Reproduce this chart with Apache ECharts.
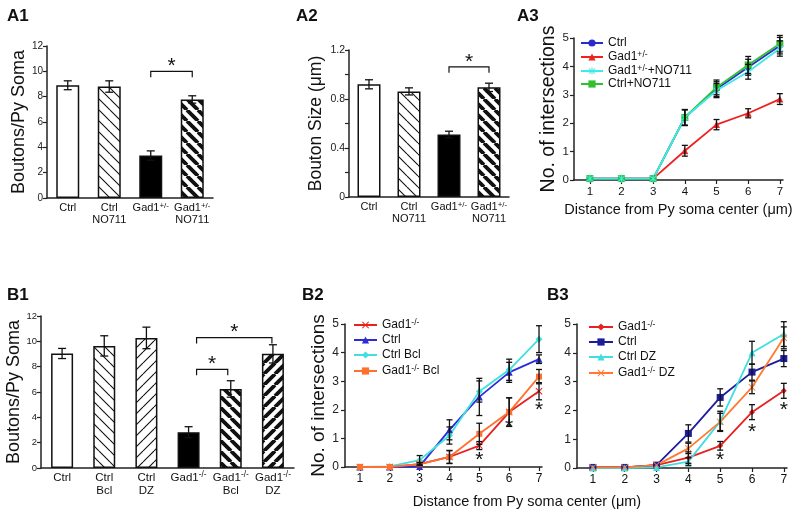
<!DOCTYPE html>
<html><head><meta charset="utf-8">
<script src="https://cdn.jsdelivr.net/npm/echarts@6.0.0/dist/echarts.min.js"></script>
<style>html,body{margin:0;padding:0;background:#fff}#c{width:800px;height:517px}</style>
</head><body><div id="c"></div><script>
// ---------------- data ----------------
const a1Cats = ['Ctrl', 'Ctrl\nNO711', 'Gad1+/-', 'Gad1+/-\nNO711'];
const a1Mean = [8.9, 8.8, 3.35, 7.78];
const a1Err = [0.35, 0.45, 0.37, 0.29];
const a1Sig = [[2, 3, 10.0]];

const a2Cats = ['Ctrl', 'Ctrl\nNO711', 'Gad1+/-', 'Gad1+/-\nNO711'];
const a2Mean = [0.92, 0.862, 0.51, 0.895];
const a2Err = [0.037, 0.029, 0.027, 0.034];
const a2Sig = [[2, 3, 1.063]];

const b1Cats = ['Ctrl', 'Ctrl\nBcl', 'Ctrl\nDZ', 'Gad1-/-', 'Gad1-/-\nBcl', 'Gad1-/-\nDZ'];
const b1Mean = [9.04, 9.64, 10.27, 2.83, 6.24, 9.01];
const b1Err = [0.4, 0.8, 0.85, 0.43, 0.65, 0.72];
const b1Sig = [[3, 4, 7.79], [3, 5, 10.3]];

const dist = [1, 2, 3, 4, 5, 6, 7];

const a3Names = ['Ctrl', 'Gad1+/-', 'Gad1+/-+NO711', 'Ctrl+NO711'];
const a3Ctrl = [0.05, 0.05, 0.05, 2.2, 3.2, 3.97, 4.73];
const a3Gad = [0.05, 0.05, 0.05, 1.03, 1.95, 2.35, 2.85];
const a3GadNO = [0.05, 0.05, 0.05, 2.2, 3.15, 3.81, 4.63];
const a3CtrlNO = [0.05, 0.05, 0.05, 2.2, 3.26, 4.05, 4.8];
const a3CtrlErr = [0, 0, 0, 0.28, 0.26, 0.28, 0.29];
const a3GadErr = [0, 0, 0, 0.19, 0.18, 0.16, 0.19];
const a3GadNOErr = [0, 0, 0, 0.27, 0.25, 0.26, 0.27];
const a3CtrlNOErr = [0, 0, 0, 0.28, 0.26, 0.3, 0.29];

const b2Names = ['Gad1-/-', 'Ctrl', 'Ctrl Bcl', 'Gad1-/- Bcl'];
const b2Gad = [0, 0, 0.1, 0.35, 0.75, 1.92, 2.65];
const b2Ctrl = [0, 0, 0.02, 1.3, 2.45, 3.31, 3.77];
const b2CtrlBcl = [0, 0.02, 0.24, 1.1, 2.64, 3.4, 4.47];
const b2GadBcl = [0, 0, 0.1, 0.35, 1.16, 1.92, 3.16];
const b2GadErr = [0, 0, 0.05, 0.22, 0.14, 0.5, 0.3];
const b2CtrlErr = [0, 0, 0, 0.35, 0.65, 0.35, 0.15];
const b2CtrlBclErr = [0, 0, 0.16, 0.3, 0.37, 0.37, 0.47];
const b2GadBclErr = [0, 0, 0.05, 0.23, 0.37, 0.5, 0.25];
const b2Stars = [[5, 0.37], [6, 1.54], [7, 2.11]];

const b3Names = ['Gad1-/-', 'Ctrl', 'Ctrl DZ', 'Gad1-/- DZ'];
const b3Gad = [0.02, 0.02, 0.1, 0.36, 0.77, 1.94, 2.68];
const b3Ctrl = [0.02, 0.02, 0.1, 1.2, 2.45, 3.33, 3.8];
const b3CtrlDZ = [0, 0, 0.02, 0.22, 1.62, 4.0, 4.65];
const b3GadDZ = [0.02, 0.02, 0.1, 0.68, 1.6, 2.8, 4.52];
const b3GadErr = [0, 0, 0, 0.2, 0.15, 0.26, 0.26];
const b3CtrlErr = [0, 0, 0, 0.3, 0.3, 0.28, 0.28];
const b3CtrlDZErr = [0, 0, 0, 0.14, 0.35, 0.4, 0.43];
const b3GadDZErr = [0, 0, 0, 0.18, 0.3, 0.22, 0.38];
const b3Stars = [[5, 0.4], [6, 1.39], [7, 2.13]];

// ---------------- styling helpers ----------------
const FF = 'Liberation Sans';
const INK = '#111';

function hatch(dir, lw, s) {
  const c = document.createElement('canvas');
  c.width = s; c.height = s;
  const g = c.getContext('2d');
  g.fillStyle = '#fff'; g.fillRect(0, 0, s, s);
  g.strokeStyle = '#111'; g.lineWidth = lw;
  g.beginPath();
  for (let k = -1; k <= 1; k++) {
    if (dir === 'back') { g.moveTo(k * s, 0); g.lineTo(k * s + s, s); }
    else { g.moveTo(k * s + s, 0); g.lineTo(k * s, s); }
  }
  g.stroke();
  return { image: c, repeat: 'repeat' };
}
const thinBack = hatch('back', 1.1, 11);
const thickBack = hatch('back', 3.8, 11);
const thinFwd = hatch('fwd', 1.1, 11);
const thickFwd = hatch('fwd', 3.8, 11);
const a1Fill = ['#fff', thinBack, '#000', thickBack];
const b1Fill = ['#fff', thinBack, thinFwd, '#000', thickBack, thickFwd];

function supFmt(t) {
  return t.split('\n').map(line => {
    const m = line.match(/^(.*?)([+-]\/-)(.*)$/);
    if (!m) return '{n|' + line + '}';
    return '{n|' + m[1] + '}{s|' + m[2] + '}' + (m[3] ? '{n|' + m[3] + '}' : '');
  }).join('\n');
}
function rich(fs, lh) {
  return {
    n: { fontSize: fs, lineHeight: lh, fontFamily: FF, color: INK },
    s: { fontSize: fs * 0.72, lineHeight: Math.round(lh * 0.6), verticalAlign: 'top', fontFamily: FF, color: INK }
  };
}

const axLine = { show: true, lineStyle: { color: '#222', width: 1.5 } };
const tick = { show: true, length: 4, lineStyle: { color: '#222', width: 1.2 } };

function catX(gi, cats, fs, lh, margin) {
  return { gridIndex: gi, type: 'category', data: cats, axisLine: axLine, axisTick: { show: false },
    axisLabel: { interval: 0, margin: margin, formatter: v => supFmt(v), rich: rich(fs, lh) } };
}
function distX(gi, fs, margin, name) {
  const o = { gridIndex: gi, type: 'value', min: 0.5, max: 7.1, axisLine: axLine, splitLine: { show: false },
    axisTick: Object.assign({ customValues: dist }, tick),
    axisLabel: { customValues: dist, fontSize: fs, margin: margin, color: INK, fontFamily: FF } };
  if (name) Object.assign(o, { name: name, nameLocation: 'middle', nameGap: 22,
    nameTextStyle: { fontSize: 14.5, color: INK, fontFamily: FF } });
  return o;
}
function valY(gi, max, interval, fs, margin, name, nfs, gap, minor) {
  const o = { gridIndex: gi, type: 'value', min: 0, max: max, interval: interval, axisLine: axLine,
    axisTick: tick, splitLine: { show: false },
    axisLabel: { fontSize: fs, margin: margin, color: '#222', fontFamily: FF } };
  if (minor) o.minorTick = { show: true, splitNumber: 2, length: 4, lineStyle: { color: '#222', width: 1.2 } };
  if (name) Object.assign(o, { name: name, nameLocation: 'middle', nameGap: gap,
    nameTextStyle: { fontSize: nfs, color: INK, fontFamily: FF } });
  return o;
}

function errRender(cap) {
  return function (params, api) {
    const x = api.value(0), lo = api.value(1), hi = api.value(2);
    const p1 = api.coord([x, hi]), p2 = api.coord([x, lo]);
    const st = { stroke: INK, lineWidth: 1.3 };
    return { type: 'group', children: [
      { type: 'line', shape: { x1: p1[0], y1: p1[1], x2: p2[0], y2: p2[1] }, style: st },
      { type: 'line', shape: { x1: p1[0] - cap, y1: p1[1], x2: p1[0] + cap, y2: p1[1] }, style: st },
      { type: 'line', shape: { x1: p2[0] - cap, y1: p2[1], x2: p2[0] + cap, y2: p2[1] }, style: st }
    ] };
  };
}
function barErr(gi, means, errs) {
  return { type: 'custom', xAxisIndex: gi, yAxisIndex: gi, silent: true, z: 5,
    encode: { x: 0, y: [1, 2] },
    data: means.map((m, i) => [i, m - errs[i], m + errs[i]]), renderItem: errRender(4) };
}
function lineErr(gi, groups) {
  const data = [];
  groups.forEach(([m, e]) => m.forEach((v, i) => { if (e[i] > 0) data.push([dist[i], v - e[i], v + e[i]]); }));
  return { type: 'custom', xAxisIndex: gi, yAxisIndex: gi, silent: true, z: 5,
    encode: { x: 0, y: [1, 2] }, data: data, renderItem: errRender(3) };
}
function starText(x, y) {
  return { type: 'text', x: x, y: y, style: { text: '*', fontSize: 21, fontFamily: FF, fill: INK, align: 'center', verticalAlign: 'middle' } };
}
function sigSeries(gi, sig, dx) {
  return { type: 'custom', xAxisIndex: gi, yAxisIndex: gi, silent: true, z: 6,
    encode: { x: 0, y: 2 },
    data: sig.map((s, k) => [s[0], s[1], s[2], k]),
    renderItem: function (p, api) {
      const a = api.value(0), b = api.value(1), y = api.value(2), k = api.value(3);
      const pa = api.coord([a, y]), pb = api.coord([b, y]);
      const off = dx ? dx[k] : [0, 0];
      const x1 = pa[0] + off[0], x2 = pb[0] + off[1], yy = pa[1];
      return { type: 'group', children: [
        { type: 'polyline', shape: { points: [[x1, yy + 6], [x1, yy], [x2, yy], [x2, yy + 6]] }, style: { stroke: INK, lineWidth: 1.2, fill: null } },
        starText((x1 + x2) / 2, yy - 5)
      ] };
    } };
}
function starSeries(gi, stars) {
  return { type: 'custom', xAxisIndex: gi, yAxisIndex: gi, silent: true, z: 6,
    data: stars, renderItem: function (p, api) {
      const c = api.coord([api.value(0), api.value(1)]);
      return starText(c[0], c[1] + 4);
    } };
}
function bars(gi, means, fills, w) {
  return { type: 'bar', xAxisIndex: gi, yAxisIndex: gi, barWidth: w, silent: true,
    itemStyle: { borderColor: INK, borderWidth: 1.5 },
    data: means.map((v, i) => ({ value: v, itemStyle: { color: fills[i] } })) };
}
function line(gi, prefix, name, vals, color, symbol, size) {
  return { type: 'line', name: prefix + '#' + name, xAxisIndex: gi, yAxisIndex: gi, silent: true,
    data: dist.map((d, i) => [d, vals[i]]), symbol: symbol, symbolSize: size, z: 3,
    lineStyle: { color: color, width: 1.8 }, itemStyle: { color: color } };
}
function legend(prefix, names, left, top, gap, iw) {
  return { orient: 'vertical', left: left, top: top, itemGap: gap, itemWidth: iw, itemHeight: 9,
    selectedMode: false, padding: 0,
    data: names.map(n => prefix + '#' + n),
    formatter: n => supFmt(n.split('#')[1]),
    textStyle: { fontSize: 12, color: INK, fontFamily: FF, rich: rich(12, 14) } };
}

const X_SYM = 'path://M1,0 L5,4 L9,0 L10,1 L6,5 L10,9 L9,10 L5,6 L1,10 L0,9 L4,5 L0,1 Z';
const AST_SYM = 'path://M1,0 L5,4 L9,0 L10,1 L6,5 L10,9 L9,10 L5,6 L1,10 L0,9 L4,5 L0,1 Z M4.3,-1 L5.7,-1 L5.7,11 L4.3,11 Z';

const titles = [['A1', 7, 16], ['A2', 296, 16], ['A3', 517, 16], ['B1', 7, 295], ['B2', 302, 295], ['B3', 547, 295]];

const option = {
  animation: false,
  backgroundColor: '#fff',
  textStyle: { fontFamily: FF, color: INK },
  grid: [
    { left: 47, top: 46, width: 166, height: 152, outerBoundsMode: 'none' },
    { left: 349, top: 50, width: 160, height: 147, outerBoundsMode: 'none' },
    { left: 574, top: 38, width: 209, height: 142, outerBoundsMode: 'none' },
    { left: 41, top: 316, width: 253, height: 152, outerBoundsMode: 'none' },
    { left: 345, top: 324, width: 197, height: 143, outerBoundsMode: 'none' },
    { left: 577, top: 324, width: 210, height: 144, outerBoundsMode: 'none' }
  ],
  xAxis: [
    catX(0, a1Cats, 11, 12, 4),
    catX(1, a2Cats, 11, 12, 4),
    distX(2, 11.5, 6, 'Distance from Py soma center (μm)'),
    catX(3, b1Cats, 11.5, 13, 3),
    distX(4, 12, 6),
    distX(5, 12, 6)
  ],
  yAxis: [
    valY(0, 12, 2, 10, 4, 'Boutons/Py Soma', 18, 19),
    valY(1, 1.2, 0.4, 10.5, 4, 'Bouton Size (μm)', 17.5, 24, true),
    valY(2, 5, 1, 11.5, 5, 'No. of intersections', 19.5, 13),
    valY(3, 12, 2, 9.5, 4, 'Boutons/Py Soma', 18, 18),
    valY(4, 5, 1, 12, 6, 'No. of intersections', 19, 12),
    valY(5, 5, 1, 12, 6)
  ],
  legend: [
    legend('A3', a3Names, 580, 37, 1, 22),
    legend('B2', b2Names, 353, 318, 3, 23),
    legend('B3', b3Names, 588, 320, 3, 24)
  ],
  graphic: titles.map(t => ({ type: 'text', x: t[1], y: t[2],
    style: { text: t[0], fontSize: 17, fontWeight: 'bold', fontFamily: FF, fill: INK, verticalAlign: 'middle' } }))
    .concat([{ type: 'text', x: 527, y: 502,
      style: { text: 'Distance from Py soma center (μm)', fontSize: 14.5, fontFamily: FF, fill: INK, align: 'center', verticalAlign: 'middle' } }]),
  series: [
    bars(0, a1Mean, a1Fill, 23), barErr(0, a1Mean, a1Err), sigSeries(0, a1Sig),
    bars(1, a2Mean, a1Fill, 23), barErr(1, a2Mean, a2Err), sigSeries(1, a2Sig),
    bars(3, b1Mean, b1Fill, 22), barErr(3, b1Mean, b1Err), sigSeries(3, b1Sig, [[8, -3], [8, -1]]),

    line(2, 'A3', a3Names[0], a3Ctrl, '#2a2ad0', 'circle', 6),
    line(2, 'A3', a3Names[1], a3Gad, '#ee2020', 'triangle', 7),
    line(2, 'A3', a3Names[3], a3CtrlNO, '#30c030', 'rect', 7),
    line(2, 'A3', a3Names[2], a3GadNO, '#40e8e8', AST_SYM, 8),
    lineErr(2, [[a3Ctrl, a3CtrlErr], [a3Gad, a3GadErr], [a3GadNO, a3GadNOErr], [a3CtrlNO, a3CtrlNOErr]]),

    line(4, 'B2', b2Names[0], b2Gad, '#e82020', X_SYM, 7),
    line(4, 'B2', b2Names[1], b2Ctrl, '#2b2bd8', 'triangle', 7),
    line(4, 'B2', b2Names[2], b2CtrlBcl, '#40e0e0', 'diamond', 7),
    line(4, 'B2', b2Names[3], b2GadBcl, '#ff7030', 'rect', 6),
    lineErr(4, [[b2Gad, b2GadErr], [b2Ctrl, b2CtrlErr], [b2CtrlBcl, b2CtrlBclErr], [b2GadBcl, b2GadBclErr]]),
    starSeries(4, b2Stars),

    line(5, 'B3', b3Names[0], b3Gad, '#e82020', 'diamond', 6),
    line(5, 'B3', b3Names[1], b3Ctrl, '#1c1c9c', 'rect', 7),
    line(5, 'B3', b3Names[2], b3CtrlDZ, '#40dede', 'triangle', 7),
    line(5, 'B3', b3Names[3], b3GadDZ, '#ff7a30', X_SYM, 7),
    lineErr(5, [[b3Gad, b3GadErr], [b3Ctrl, b3CtrlErr], [b3CtrlDZ, b3CtrlDZErr], [b3GadDZ, b3GadDZErr]]),
    starSeries(5, b3Stars)
  ]
};
const chart = echarts.init(document.getElementById('c'), null, { renderer: 'canvas' });
chart.setOption(option);
</script></body></html>
